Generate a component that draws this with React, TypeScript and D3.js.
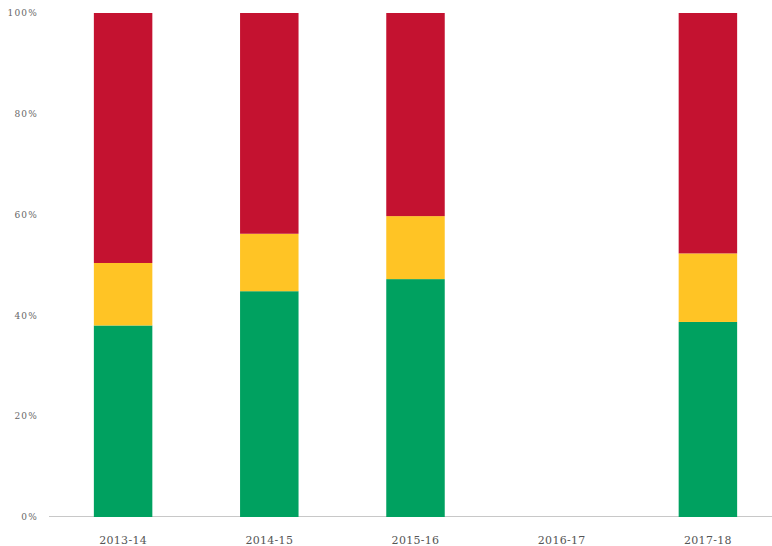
import { useEffect, useRef } from 'react';
import * as d3 from 'd3';

const years = ['2013-14', '2014-15', '2015-16', '2016-17', '2017-18'];
const green = [38.0, 44.8, 47.2, 0, 38.7];
const yellow = [12.4, 11.4, 12.5, 0, 13.6];
const red = [49.6, 43.8, 40.3, 0, 47.7];
const yTicks = [0, 20, 40, 60, 80, 100];

const seriesKeys = ['green', 'yellow', 'red'];
const colors: Record<string, string> = { green: '#00a160', yellow: '#ffc425', red: '#c41230' };

const App = () => {
  const svgRef = useRef<SVGSVGElement>(null);

  useEffect(() => {
    if (!svgRef.current) return;
    const svg = d3.select(svgRef.current);
    svg.selectAll('*').remove();

    const width = 772;
    const height = 546;
    const margin = { top: 13, right: -9, bottom: 29, left: 50 };

    const rows = years.map((y, i) => ({ year: y, green: green[i], yellow: yellow[i], red: red[i] }));

    const x = d3.scaleBand<string>()
      .domain(years)
      .range([margin.left, width - margin.right])
      .paddingInner(0.6)
      .paddingOuter(0.3);

    const y = d3.scaleLinear()
      .domain([0, 100])
      .range([height - margin.bottom, margin.top]);

    const stack = d3.stack<any>().keys(seriesKeys);
    const layers = stack(rows);

    // y tick labels
    svg.append('g')
      .selectAll('text')
      .data(yTicks)
      .enter()
      .append('text')
      .attr('x', 38)
      .attr('y', d => y(d))
      .attr('dy', '0.35em')
      .attr('text-anchor', 'end')
      .attr('fill', '#666')
      .attr('font-family', '"DejaVu Serif", serif')
      .attr('font-size', 9)
      .attr('letter-spacing', 1.2)
      .text(d => `${d}%`);

    // baseline
    svg.append('line')
      .attr('x1', 49)
      .attr('x2', width)
      .attr('y1', y(0) - 0.5)
      .attr('y2', y(0) - 0.5)
      .attr('stroke', '#c8c8c8')
      .attr('stroke-width', 1);

    // bars
    svg.append('g')
      .selectAll('g')
      .data(layers)
      .enter()
      .append('g')
      .attr('fill', d => colors[d.key])
      .selectAll('rect')
      .data(d => d)
      .enter()
      .append('rect')
      .attr('x', d => x(d.data.year)!)
      .attr('width', x.bandwidth())
      .attr('y', d => y(d[1]))
      .attr('height', d => y(d[0]) - y(d[1]));

    // category labels
    svg.append('g')
      .selectAll('text')
      .data(years)
      .enter()
      .append('text')
      .attr('x', d => x(d)! + x.bandwidth() / 2)
      .attr('y', 544)
      .attr('text-anchor', 'middle')
      .attr('fill', '#555')
      .attr('font-family', '"DejaVu Serif", serif')
      .attr('font-size', 11)
      .attr('letter-spacing', 0.3)
      .text(d => d);
  }, []);

  return (
    <svg
      ref={svgRef}
      width={772}
      height={546}
      style={{ position: 'fixed', left: 0, top: 0, background: '#fff' }}
    />
  );
};

export default App;
